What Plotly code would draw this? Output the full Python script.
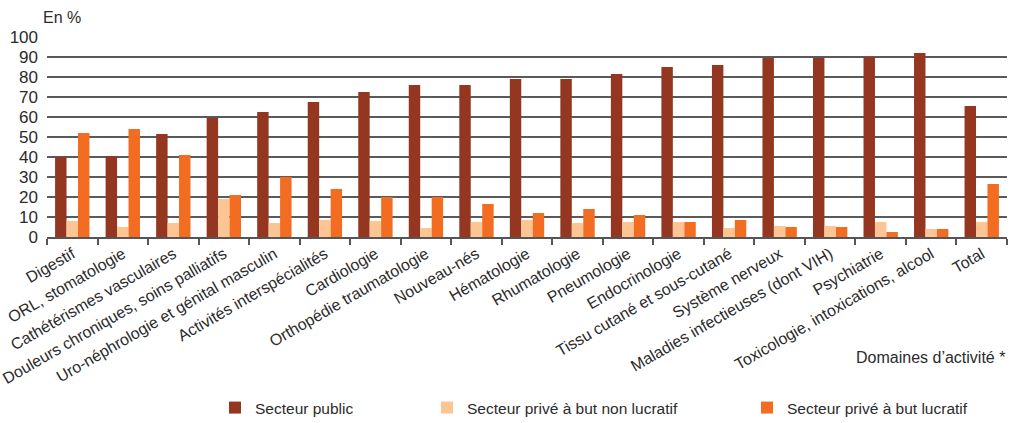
import plotly.graph_objects as go

categories = [
    "Digestif", "ORL, stomatologie", "Cathétérismes vasculaires",
    "Douleurs chroniques, soins palliatifs", "Uro-néphrologie et génital masculin",
    "Activités interspécialités", "Cardiologie", "Orthopédie traumatologie",
    "Nouveau-nés", "Hématologie", "Rhumatologie", "Pneumologie",
    "Endocrinologie", "Tissu cutané et sous-cutané", "Système nerveux",
    "Maladies infectieuses (dont VIH)", "Psychiatrie",
    "Toxicologie, intoxications, alcool", "Total",
]
public = [40, 40.5, 51.5, 59.5, 62.5, 67.5, 72.5, 76, 76, 79, 79, 81.5,
          85, 86, 89.5, 89.5, 90, 92, 65.5]
prive_non_lucratif = [8, 5, 7, 19, 7, 8.5, 8, 4.5, 7.5, 8.5, 7, 7.5,
                      7.5, 4.5, 5.5, 5.5, 7.5, 4, 7.5]
prive_lucratif = [52, 54, 41, 21, 30, 24, 20, 20, 16.5, 12, 14, 11,
                  7.5, 8.5, 5, 5, 2.5, 4, 26.5]

series = [
    ("Secteur public", public, "#953720", "legend"),
    ("Secteur privé à but non lucratif", prive_non_lucratif, "#fcc593", "legend2"),
    ("Secteur privé à but lucratif", prive_lucratif, "#f26c22", "legend3"),
]

FONT = "Liberation Sans, Arial"
TXT = "#2b2b2b"

fig = go.Figure()
for name, vals, col, leg in series:
    fig.add_trace(go.Bar(x=categories, y=vals, name=name, legend=leg,
                         showlegend=True,
                         marker=dict(color=col, line=dict(width=0))))

leg_common = dict(orientation="h", yanchor="middle", xanchor="left",
                  xref="container", yref="container", y=1 - 408 / 423,
                  font=dict(family=FONT, size=15.5, color=TXT),
                  bgcolor="rgba(0,0,0,0)")

fig.update_layout(
    width=1014, height=423,
    margin=dict(l=47, r=7, t=37, b=186),
    paper_bgcolor="white", plot_bgcolor="white",
    barmode="group", bargap=0.32, bargroupgap=0,
    showlegend=True,
    font=dict(family=FONT, size=16, color=TXT),
    legend=dict(x=215 / 1014, **leg_common),
    legend2=dict(x=427 / 1014, **leg_common),
    legend3=dict(x=747 / 1014, **leg_common),
    xaxis=dict(
        tickangle=-30, tickson="boundaries", ticks="outside", ticklen=6,
        tickcolor="#555", tickwidth=1.5, showline=True, linecolor="#555",
        linewidth=1.5, showgrid=False, automargin=False,
        tickfont=dict(family=FONT, size=16, color=TXT),
    ),
    yaxis=dict(
        range=[0, 100], dtick=10, showgrid=True, gridcolor="#5a5a5a",
        gridwidth=1.5, zeroline=False, showline=False, ticks="",
        automargin=False, ticklabelstandoff=8,
        tickfont=dict(family=FONT, size=17, color=TXT),
    ),
    annotations=[
        dict(text="En %", xref="paper", yref="paper", x=-0.006, y=1.045,
             xanchor="left", yanchor="bottom", showarrow=False,
             font=dict(family=FONT, size=16, color=TXT)),
        dict(text="Domaines d’activité *", xref="paper", yref="paper", x=1.0,
             y=-0.6, xanchor="right", yanchor="middle", showarrow=False,
             font=dict(family=FONT, size=16, color=TXT)),
    ],
)

# the page body has a default 8px margin: remove it so the figure fills the window
fig.write_html("out.html", config={"displayModeBar": False},
               post_script="document.body.style.margin='0';")
